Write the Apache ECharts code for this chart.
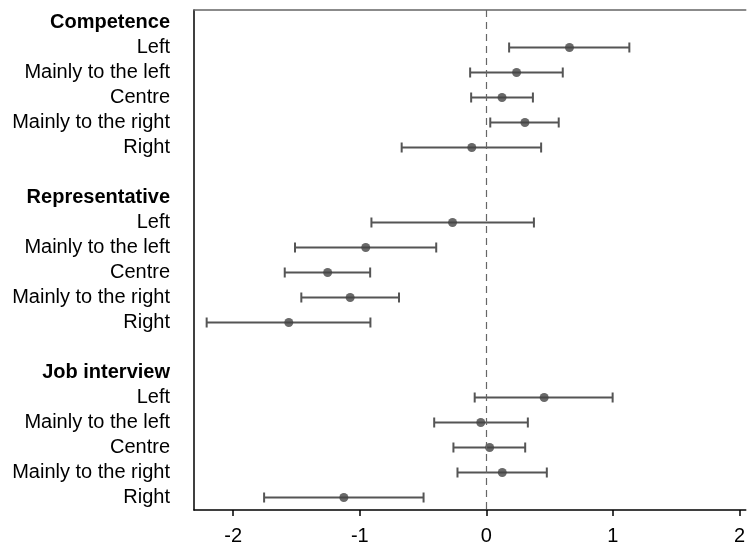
<!DOCTYPE html>
<html>
<head>
<meta charset="utf-8">
<script src="https://cdn.jsdelivr.net/npm/echarts@6/dist/echarts.min.js"></script>
<style>
html,body{margin:0;padding:0;background:#fff;}
#chart{width:748px;height:546px;}
</style>
</head>
<body>
<div id="chart"></div>
<script>
// ---- Data ----
var groups = ['Competence', 'Representative', 'Job interview'];
var positions = ['Left', 'Mainly to the left', 'Centre', 'Mainly to the right', 'Right'];

var competenceEst  = [0.657, 0.239, 0.124, 0.305, -0.115];
var competenceLow  = [0.180, -0.128, -0.120, 0.031, -0.669];
var competenceHigh = [1.130, 0.604, 0.368, 0.572, 0.433];

var representativeEst  = [-0.267, -0.953, -1.254, -1.076, -1.561];
var representativeLow  = [-0.908, -1.512, -1.593, -1.462, -2.210];
var representativeHigh = [0.376, -0.396, -0.918, -0.690, -0.916];

var jobEst  = [0.457, -0.044, 0.026, 0.126, -1.126];
var jobLow  = [-0.092, -0.412, -0.260, -0.228, -1.756];
var jobHigh = [0.998, 0.328, 0.307, 0.478, -0.496];

var xTicks = [-2, -1, 0, 1, 2];

// ---- Build rows ----
var est = [competenceEst, representativeEst, jobEst];
var low = [competenceLow, representativeLow, jobLow];
var high = [competenceHigh, representativeHigh, jobHigh];

var rowLabels = [];
var rowIsHeader = [];
var pointData = [];
var barData = [];
groups.forEach(function (g, gi) {
  rowLabels.push(g); rowIsHeader.push(true);
  positions.forEach(function (p, pi) {
    var idx = rowLabels.length;
    rowLabels.push(p); rowIsHeader.push(false);
    pointData.push([est[gi][pi], idx]);
    barData.push([low[gi][pi], high[gi][pi], idx]);
  });
  if (gi < groups.length - 1) { rowLabels.push(''); rowIsHeader.push(false); }
});

var chart = echarts.init(document.getElementById('chart'), null, {renderer: 'canvas'});
var FONT = 'Liberation Sans, Arial, sans-serif';
var lineColor = '#555555';

chart.setOption({
  animation: false,
  backgroundColor: '#ffffff',
  grid: {left: 194, right: 0, top: 10, bottom: 35, containLabel: false},
  xAxis: [{
    type: 'value',
    min: -2.31,
    max: 2.05,
    position: 'bottom',
    axisLine: {show: true, lineStyle: {color: '#000', width: 1.5}},
    axisTick: {show: true, length: 6, customValues: xTicks, lineStyle: {color: '#000', width: 1.5}},
    axisLabel: {show: true, customValues: xTicks, fontSize: 20, color: '#000', fontFamily: FONT, margin: 16},
    splitLine: {show: false}
  }, {
    type: 'value',
    min: -2.31,
    max: 2.05,
    position: 'top',
    axisLine: {show: true, onZero: false, lineStyle: {color: '#666', width: 1.5}},
    axisTick: {show: false},
    axisLabel: {show: false},
    splitLine: {show: false}
  }],
  yAxis: {
    type: 'category',
    inverse: true,
    boundaryGap: true,
    data: rowLabels,
    axisLine: {show: true, onZero: false, lineStyle: {color: '#000', width: 1.5}},
    axisTick: {show: false},
    splitLine: {show: false},
    axisLabel: {
      interval: 0,
      margin: 24,
      fontSize: 20,
      color: '#000',
      fontFamily: FONT,
      formatter: function (value, index) {
        var t = rowLabels[index];
        if (!t) return '';
        return rowIsHeader[index] ? '{h|' + t + '}' : t;
      },
      rich: {
        h: {fontSize: 20, fontWeight: 'bold', color: '#000', fontFamily: FONT}
      }
    }
  },
  series: [{
    type: 'custom',
    xAxisIndex: 0,
    data: barData,
    encode: {x: [0, 1], y: 2},
    renderItem: function (params, api) {
      var y = api.value(2);
      var p1 = api.coord([api.value(0), y]);
      var p2 = api.coord([api.value(1), y]);
      var h = 5;
      var style = {stroke: lineColor, lineWidth: 2, fill: null};
      return {
        type: 'group',
        children: [
          {type: 'line', shape: {x1: p1[0], y1: p1[1], x2: p2[0], y2: p2[1]}, style: style},
          {type: 'line', shape: {x1: p1[0], y1: p1[1] - h, x2: p1[0], y2: p1[1] + h}, style: style},
          {type: 'line', shape: {x1: p2[0], y1: p2[1] - h, x2: p2[0], y2: p2[1] + h}, style: style}
        ]
      };
    },
    z: 2
  }, {
    type: 'scatter',
    xAxisIndex: 0,
    data: pointData,
    symbol: 'circle',
    symbolSize: 9,
    itemStyle: {color: '#444444'},
    z: 3,
    markLine: {
      silent: true,
      symbol: ['none', 'none'],
      label: {show: false},
      lineStyle: {color: '#666', type: [7, 5], width: 1.2},
      data: [{xAxis: 0}]
    }
  }]
});
</script>
</body>
</html>
